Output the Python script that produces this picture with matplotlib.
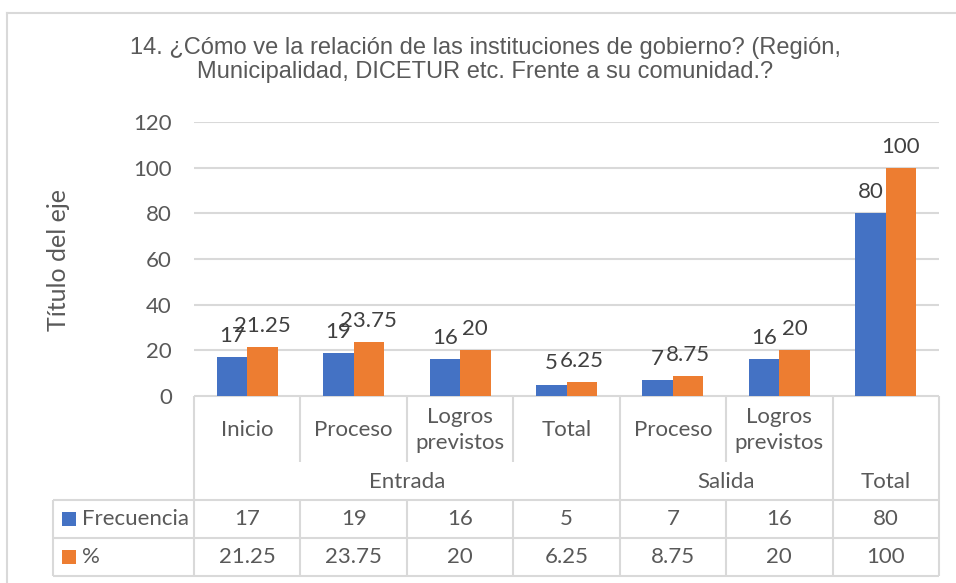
import matplotlib
matplotlib.use("Agg")
from matplotlib import pyplot as plt
from matplotlib.patches import Rectangle

# Data
categories = ["Inicio", "Proceso", "Logros\nprevistos", "Total", "Proceso", "Logros\nprevistos", ""]
groups = ["Entrada", "Salida", "Total"]
group_spans = [4, 2, 1]
frecuencia = [17, 19, 16, 5, 7, 16, 80]
porcentaje = [21.25, 23.75, 20, 6.25, 8.75, 20, 100]
frec_labels = ["17", "19", "16", "5", "7", "16", "80"]
pct_labels = ["21.25", "23.75", "20", "6.25", "8.75", "20", "100"]
series_names = ["Frecuencia", "%"]
yticks = [0, 20, 40, 60, 80, 100, 120]

title = ("14. ¿Cómo ve la relación de las instituciones de gobierno? (Región,\n"
         "Municipalidad, DICETUR etc. Frente a su comunidad.?")

blue = "#4472C4"
orange = "#ED7D31"
grid_c = "#D9D9D9"
text_c = "#595959"
label_c = "#404040"
font = "Lato"
fs = 16

W, H = 956, 583
fig = plt.figure(figsize=(W / 100, H / 100), dpi=100)

# plot area in pixels
px_l, px_r, px_t, px_b = 194, 939, 122, 396
ax = fig.add_axes([px_l / W, 1 - px_b / H, (px_r - px_l) / W, (px_b - px_t) / H])

n = len(frecuencia)
xs = list(range(n))
bw = 0.286
ax.bar([x - bw / 2 for x in xs], frecuencia, bw, color=blue, zorder=3)
ax.bar([x + bw / 2 for x in xs], porcentaje, bw, color=orange, zorder=3)

for x, v, s in zip(xs, frecuencia, frec_labels):
    ax.annotate(s, (x - bw / 2, v), xytext=(0, 8), textcoords="offset points",
                ha="center", va="bottom", fontsize=fs, color=label_c, family=font)
for x, v, s in zip(xs, porcentaje, pct_labels):
    ax.annotate(s, (x + bw / 2, v), xytext=(0, 8), textcoords="offset points",
                ha="center", va="bottom", fontsize=fs, color=label_c, family=font)

ax.set_xlim(-0.5, n - 0.5)
ax.set_ylim(0, 120)
ax.set_yticks(yticks)
ax.set_yticklabels([str(t) for t in yticks], fontsize=fs, color=text_c, family=font)
ax.tick_params(axis="y", length=0, pad=16)
ax.set_xticks([])
ax.grid(axis="y", color=grid_c, lw=1.5, zorder=0)
for sp in ax.spines.values():
    sp.set_visible(False)

# overlay in pixel coords for the data table and frame
ov = fig.add_axes([0, 0, 1, 1], zorder=-1)
ov.set_xlim(0, W)
ov.set_ylim(H, 0)
ov.axis("off")
ov.patch.set_alpha(0)

ov.plot([7, 7], [13, H], color=grid_c, lw=1.5)
ov.plot([7, W], [13, 13], color=grid_c, lw=1.5)

colw = (px_r - px_l) / n
edges = [px_l + i * colw for i in range(n + 1)]
row_cat_b = 462
row_grp_b = 500
row1_b = 538
row2_b = 576
leg_l = 53

lkw = dict(color=grid_c, lw=1.5, solid_capstyle="butt")
ov.plot([px_l, px_r], [px_b, px_b], **lkw)
for y in [row_grp_b, row1_b, row2_b]:
    ov.plot([leg_l, px_r], [y, y], **lkw)
ov.plot([leg_l, leg_l], [row_grp_b, row2_b], **lkw)

# group boundaries
bounds = [0]
for s in group_spans:
    bounds.append(bounds[-1] + s)
for i, e in enumerate(edges):
    if i in bounds:
        ov.plot([e, e], [px_b, row2_b], **lkw)
    else:
        ov.plot([e, e], [px_b, row_cat_b], **lkw)
        ov.plot([e, e], [row_grp_b, row2_b], **lkw)

tkw = dict(ha="center", va="center", fontsize=fs, color=text_c, family=font)
for i, c in enumerate(categories):
    cx = (edges[i] + edges[i + 1]) / 2
    ov.text(cx, 430, c, linespacing=1.4, **tkw)
for g, a, b in zip(groups, bounds[:-1], bounds[1:]):
    ov.text((edges[a] + edges[b]) / 2, 482, g, **tkw)
for i in range(n):
    cx = (edges[i] + edges[i + 1]) / 2
    ov.text(cx, 519, frec_labels[i], **tkw)
    ov.text(cx, 557, pct_labels[i], **tkw)

for name, col, yc in zip(series_names, [blue, orange], [519, 557]):
    ov.add_patch(Rectangle((62, yc - 7), 14, 14, color=col, lw=0))
    ov.text(82, yc, name, ha="left", va="center", fontsize=fs, color=text_c, family=font)

fig.text(485 / W, 1 - 60 / H, title, ha="center", va="center", fontsize=17,
         color=text_c, family="Liberation Sans", linespacing=1.15)
fig.text(58 / W, 1 - 260 / H, "Título del eje", ha="center", va="center",
         rotation=90, fontsize=18, color=text_c, family=font)

fig.savefig("out.png", dpi=100, facecolor="white")
